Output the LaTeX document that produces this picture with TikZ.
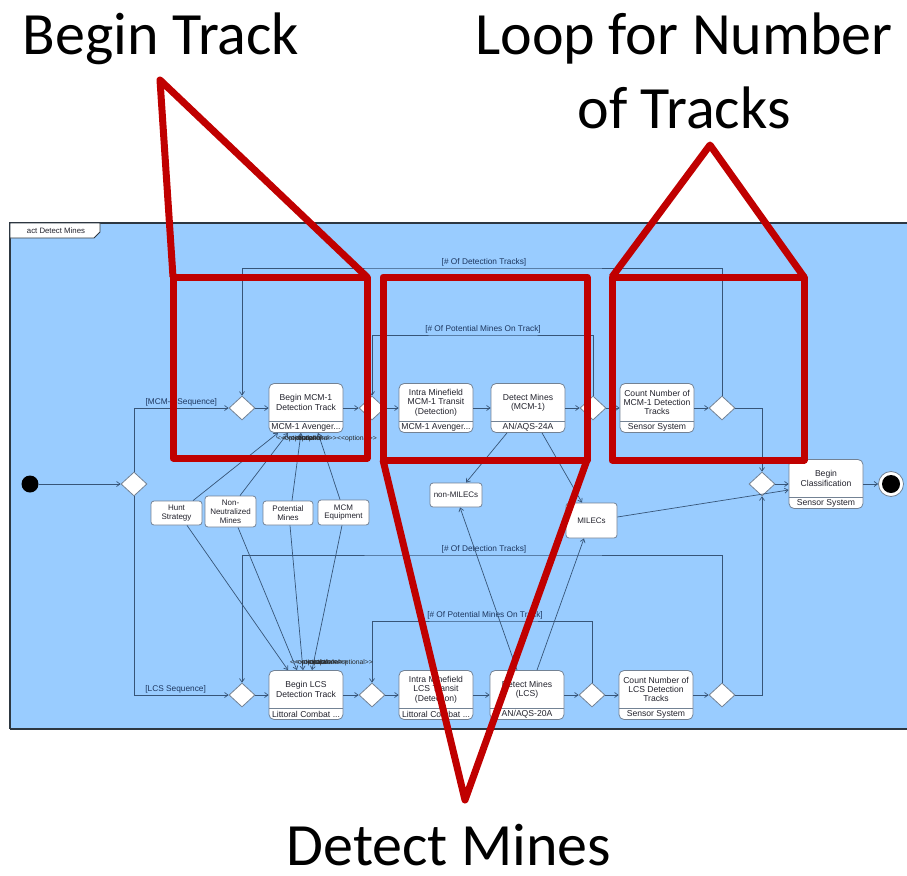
\documentclass[tikz,border=0pt]{standalone}
\usepackage{fontspec}
\setmainfont{Carlito}
\newfontfamily\umlfont{Liberation Sans}
\usetikzlibrary{shapes.geometric,arrows.meta}

\definecolor{bgblue}{RGB}{153,204,255}
\definecolor{redline}{RGB}{192,0,0}
\definecolor{connc}{RGB}{55,85,120}
\definecolor{nodeborder}{RGB}{115,130,148}
\definecolor{txt}{RGB}{35,35,45}
\definecolor{lbl}{RGB}{30,55,95}
\definecolor{framec}{RGB}{45,55,65}

\tikzset{
 conn/.style={draw=connc, line width=0.7pt},
 arr/.style={conn, -{Straight Barb[length=3.5pt,width=5pt]}},
 actbox/.style={draw=nodeborder, fill=white, rounded corners=5pt, minimum width=74pt, minimum height=49pt, inner sep=0pt, line width=0.8pt},
 objbox/.style={draw=nodeborder, fill=white, rounded corners=3pt, inner sep=0pt, line width=0.8pt, font=\umlfont\fontsize{8}{8.8}\selectfont, text=txt, align=center},
 dec/.style={diamond, draw=nodeborder, fill=white, minimum width=26pt, minimum height=24pt, inner sep=0pt, line width=0.8pt},
 acttext/.style={font=\umlfont\fontsize{8.6}{9.3}\selectfont, text=txt, align=center, inner sep=0pt},
 guard/.style={font=\umlfont\fontsize{8.3}{9}\selectfont, text=lbl, inner sep=0pt},
 stereo/.style={font=\umlfont\fontsize{6.8}{7}\selectfont, text=black!85, inner sep=0pt, anchor=west},
 redbox/.style={draw=redline, line width=7pt, line join=round},
 bigtitle/.style={font=\fontsize{60}{72}\selectfont, text=black, anchor=base, inner sep=0pt},
}

\newcommand\actnode[5]{%
 \node[actbox] (#1) at (#2,#3) {};
 \draw[draw=nodeborder, line width=0.8pt] (#2-37,#3+13.5) -- (#2+37,#3+13.5);
 \node[acttext] (#1-t) at (#2,#3-5.5) {#4};
 \node[acttext] (#1-l) at (#2,#3+19) {#5};
}

\begin{document}
\begin{tikzpicture}[x=1pt,y=-1pt]
\useasboundingbox (0,0) rectangle (907,875);

% frame
\fill[bgblue] (10,223) rectangle (907,729);
\draw[framec, line width=1.5pt] (907,223) -- (10,223) -- (10,729);
\draw[framec, line width=2.5pt] (10,729) -- (907,729);
\draw[framec, fill=white, line width=0.8pt] (10,223) -- (100,223) -- (100,232) -- (94,238) -- (10,238) -- cycle;
\node[font=\umlfont\fontsize{7.8}{9}\selectfont, text=txt, inner sep=0pt] (tab) at (56,230.5) {act Detect Mines};

% initial / final
\node[circle, fill=black, minimum size=17pt, inner sep=0pt] (ini) at (30,484) {};
\node[circle, draw=nodeborder, fill=white, minimum size=25pt, inner sep=0pt, line width=0.8pt] (fin) at (891,484) {};
\fill[black] (fin.center) circle[radius=9pt];

% decisions
\node[dec] (d0) at (134,484) {};
\node[dec] (d1) at (242,408) {};
\node[dec] (d2) at (372,408) {};
\node[dec] (d3) at (593,408) {};
\node[dec] (d4) at (722,408) {};
\node[dec] (d5) at (242,695) {};
\node[dec] (d6) at (372,695) {};
\node[dec] (d7) at (592,695) {};
\node[dec] (d8) at (722,695) {};
\node[dec] (dm) at (762,484) {};

% actions
\actnode{bMCM}{306}{408}{Begin MCM-1\\Detection Track}{MCM-1 Avenger...}
\actnode{iMCM}{436}{408}{Intra Minefield\\MCM-1 Transit\\(Detection)}{MCM-1 Avenger...}
\actnode{dMCM}{528}{408}{Detect Mines\\(MCM-1)}{AN/AQS-24A}
\actnode{cMCM}{657}{408}{Count Number of\\MCM-1 Detection\\Tracks}{Sensor System}
\actnode{bLCS}{306}{695}{Begin LCS\\Detection Track}{Littoral Combat ...}
\actnode{iLCS}{436}{695}{Intra Minefield\\LCS Transit\\(Detection)}{Littoral Combat ...}
\actnode{dLCS}{527}{695}{Detect Mines\\(LCS)}{AN/AQS-20A}
\actnode{cLCS}{656}{695}{Count Number of\\LCS Detection\\Tracks}{Sensor System}
\actnode{bCls}{826}{484}{Begin\\Classification}{Sensor System}

% object nodes
\node[objbox, minimum width=51pt, minimum height=24pt] (hunt) at (176.5,513) {Hunt\\Strategy};
\node[objbox, minimum width=51pt, minimum height=31pt] (nonneut) at (230.5,511.5) {Non-\\Neutralized\\Mines};
\node[objbox, minimum width=50pt, minimum height=24pt] (potm) at (288,513) {Potential\\Mines};
\node[objbox, minimum width=51pt, minimum height=25pt] (mcme) at (343.5,512.5) {MCM\\Equipment};
\node[objbox, minimum width=52pt, minimum height=24pt] (nonmil) at (456,495) {non-MILECs};
\node[objbox, minimum width=51pt, minimum height=35pt] (mil) at (591.5,520.5) {MILECs};

% main flow
\draw[arr] (ini) -- (d0);
\draw[arr] (d0.north) |- (d1.west) node[guard, pos=0.75, above=1.5pt] (gMCM) {[MCM-1 Sequence]};
\draw[arr] (d0.south) |- (d5.west) node[guard, pos=0.72, above=1.5pt] (gLCS) {[LCS Sequence]};
\draw[arr] (d1) -- (bMCM);
\draw[arr] (bMCM) -- (d2);
\draw[arr] (d2) -- (iMCM);
\draw[arr] (iMCM) -- (dMCM);
\draw[arr] (dMCM) -- (d3);
\draw[arr] (d3) -- (cMCM);
\draw[arr] (cMCM) -- (d4);
\draw[arr] (d5) -- (bLCS);
\draw[arr] (bLCS) -- (d6);
\draw[arr] (d6) -- (iLCS);
\draw[arr] (iLCS) -- (dLCS);
\draw[arr] (dLCS) -- (d7);
\draw[arr] (d7) -- (cLCS);
\draw[arr] (cLCS) -- (d8);

% loops
\coordinate (loopA) at (484,268);
\coordinate (loopB) at (483,335);
\coordinate (loopC) at (484,555);
\coordinate (loopD) at (485,621);
\draw[arr] (d4.north) |- (loopA) -| (d1.north);
\node[guard, above=1.5pt] at (loopA) {[\# Of Detection Tracks]};
\draw[arr] (d3.north) |- (loopB) -| (d2.north);
\node[guard, above=1.5pt] at (loopB) {[\# Of Potential Mines On Track]};
\draw[arr] (d8.north) |- (loopC) -| (d5.north);
\node[guard, above=1.5pt] at (loopC) {[\# Of Detection Tracks]};
\draw[arr] (d7.north) |- (loopD) -| (d6.north);
\node[guard, above=1.5pt] at (loopD) {[\# Of Potential Mines On Track]};

% merge to classification
\draw[arr] (d4.east) -| (dm.north);
\draw[arr] (d8.east) -| (dm.south);
\draw[arr] (dm) -- (bCls.west);
\draw[arr] ([yshift=3.5pt]mil.east) -- ([yshift=-6pt]bCls.west);
\draw[arr] (bCls) -- (fin);

% detections to MILECs / non-MILECs
\draw[arr] ([xshift=-21pt]dMCM.south) -- ([xshift=10pt]nonmil.north);
\draw[arr] ([xshift=14pt]dMCM.south) -- ([xshift=-9.5pt]mil.north);
\draw[arr] ([xshift=-10pt]dLCS.north) -- ([xshift=4pt]nonmil.south);
\draw[arr] ([xshift=10pt]dLCS.north) -- ([xshift=-7.5pt]mil.south);

% object flows into begin tracks
\draw[arr] ([xshift=16.5pt]hunt.north) -- ([xshift=-28pt]bMCM.south);
\draw[arr] ([xshift=9.5pt]nonneut.north) -- ([xshift=-18pt]bMCM.south);
\draw[arr] ([xshift=4pt]potm.north) -- ([xshift=-5pt]bMCM.south);
\draw[arr] ([xshift=-3.5pt]mcme.north) -- ([xshift=12pt]bMCM.south);
\draw[arr] ([xshift=10.5pt]hunt.south) -- ([xshift=-18pt]bLCS.north);
\draw[arr] ([xshift=7.5pt]nonneut.south) -- ([xshift=-9pt]bLCS.north);
\draw[arr] ([xshift=2pt]potm.south) -- ([xshift=-3pt]bLCS.north);
\draw[arr] ([xshift=-1.5pt]mcme.south) -- ([xshift=6pt]bLCS.north);

% overlapping stereotypes (overlap as in the source)
\foreach \sx in {277,283,290,297,337}{\node[stereo] at (\sx,439) {<<optional>>};}
\foreach \sx in {290,296,302,308,333}{\node[stereo] at (\sx,663) {<<optional>>};}

% red highlight outlines
\draw[redbox] (173,277) -- (367,277) -- (367,458) -- (173,458) -- cycle;
\draw[redbox] (173,277) -- (160,80) -- (367,277);
\draw[redbox] (383,277) -- (587,277) -- (587,460) -- (383,460) -- cycle;
\draw[redbox] (383,460) -- (465,800) -- (587,460);
\draw[redbox] (612,277) -- (804,277) -- (804,460) -- (612,460) -- cycle;
\draw[redbox] (612,277) -- (710,145) -- (804,277);

% titles
\node[bigtitle] (t1) at (161,55) {Begin Track};
\node[bigtitle] (t2) at (684,55) {Loop for Number};
\node[bigtitle] (t3) at (684,128) {of Tracks};
\node[bigtitle] (t4) at (449,865) {Detect Mines};
\end{tikzpicture}
\end{document}
